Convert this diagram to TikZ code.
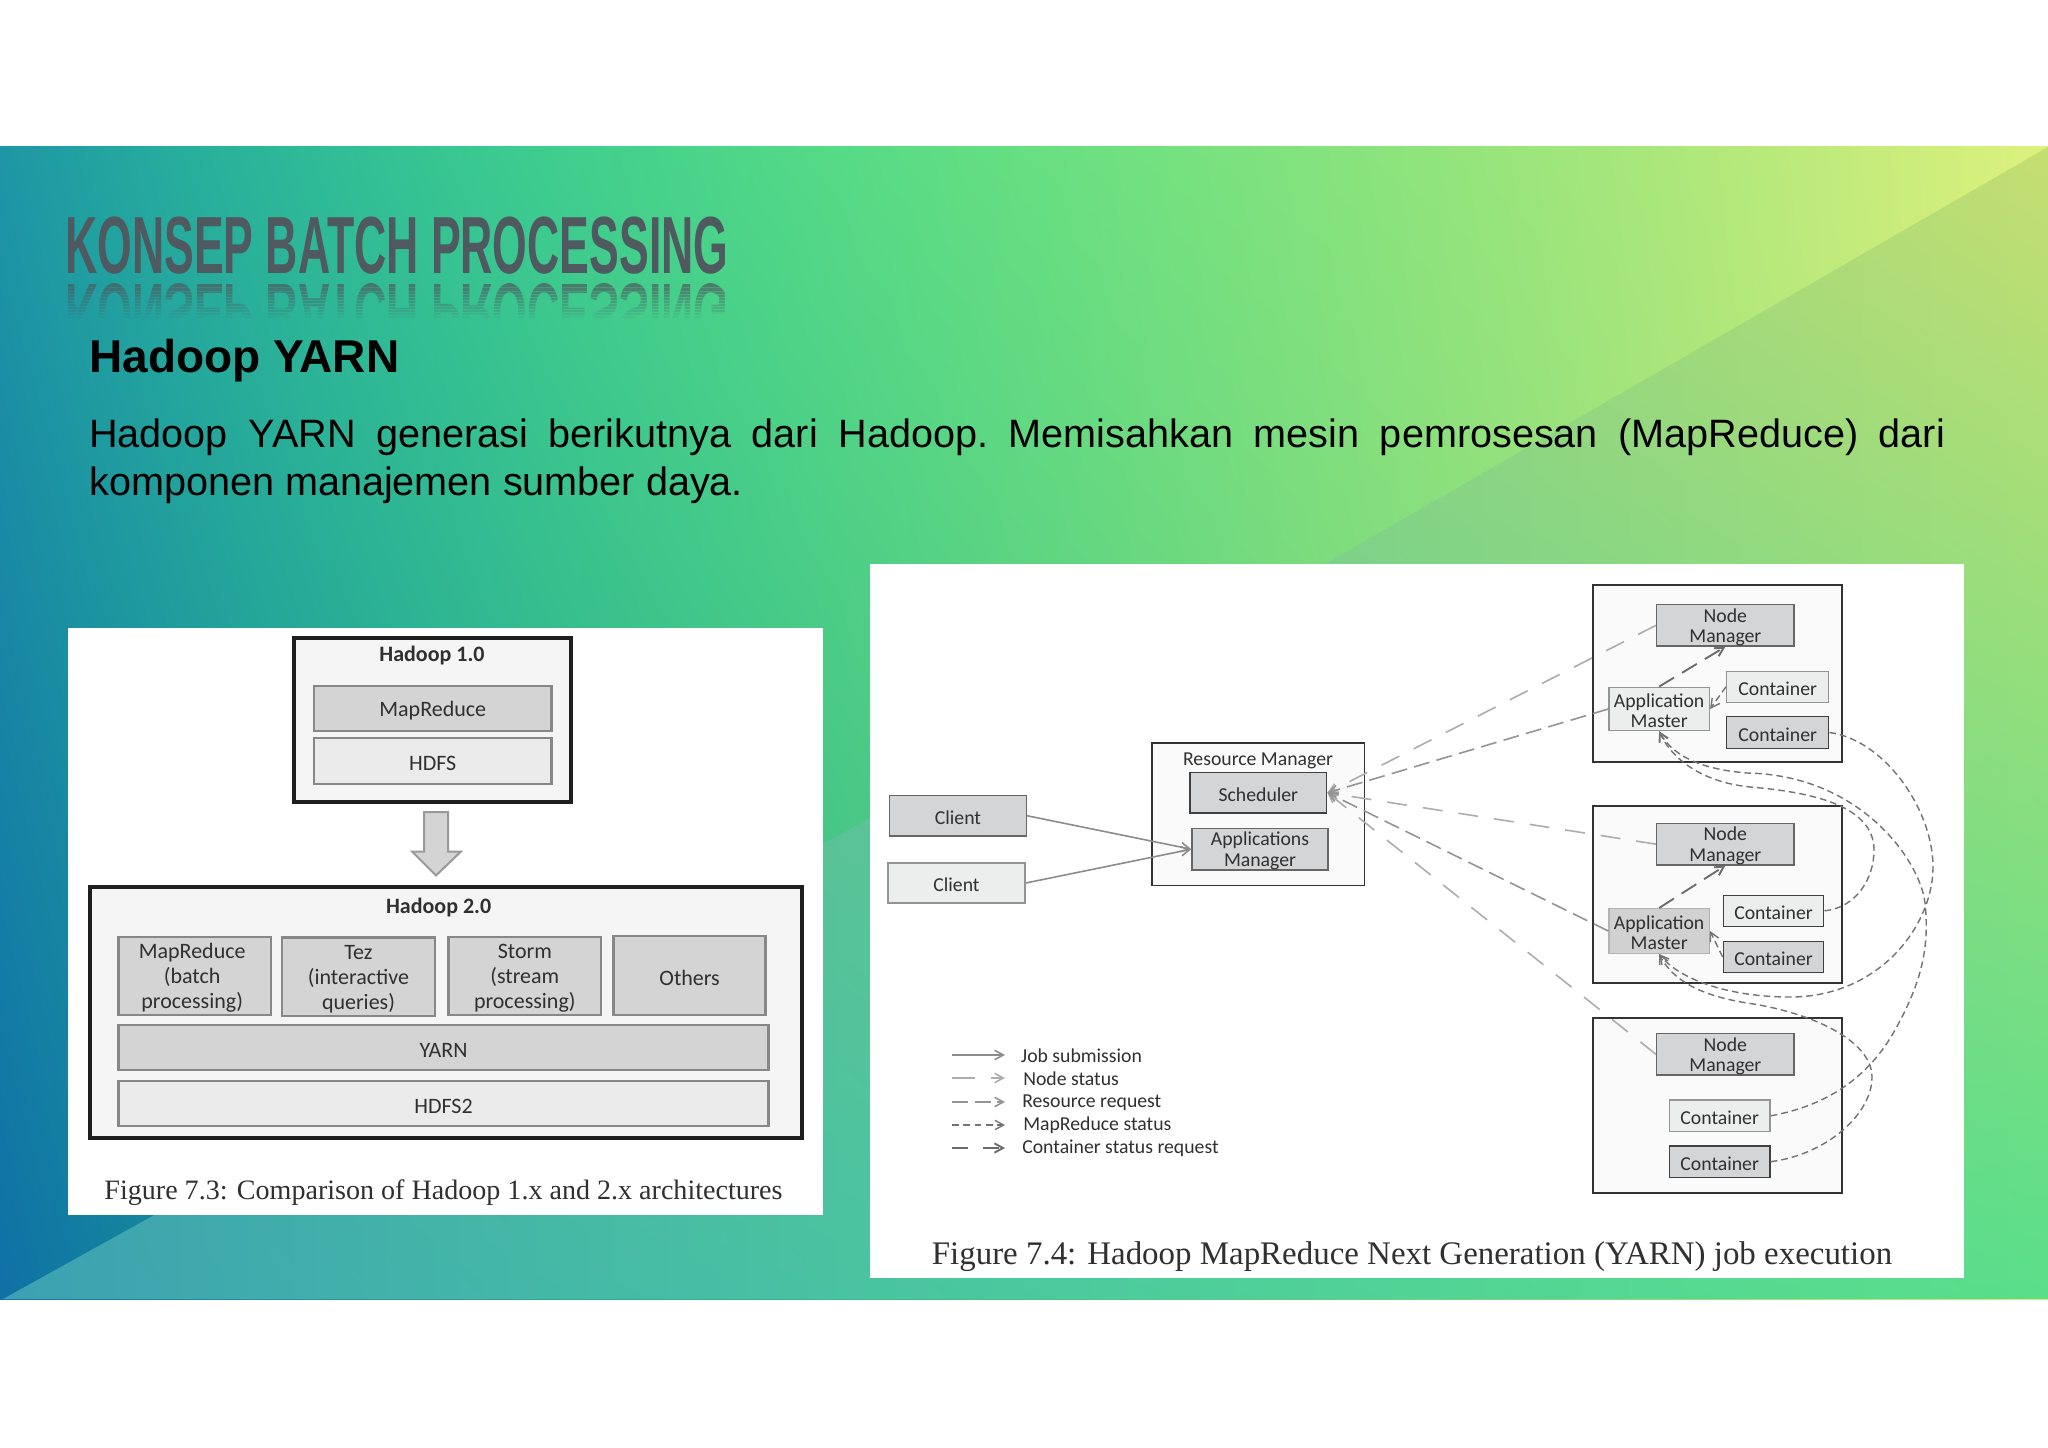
\documentclass[tikz,border=0pt]{standalone}
\usepackage{fontspec}
\usepackage{graphicx}
\setmainfont{Carlito}
\newfontfamily\arialf{Liberation Sans}
\newfontfamily\timesf{Liberation Serif}
\usetikzlibrary{arrows.meta}
\definecolor{titlegray}{RGB}{78,90,95}
\definecolor{inktext}{RGB}{48,48,48}
\definecolor{boxdark}{RGB}{211,213,214}
\definecolor{boxlight}{RGB}{236,238,238}
\pgfdeclarefunctionalshading{bgupper}{\pgfpointorigin}{\pgfpoint{100bp}{100bp}}{}{
 25 sub 50 div exch 25 sub 50 div exch
 1 exch sub 1 index 1 exch sub mul
 1 index dup dup mul 92 mul exch 100 mul add 30 add 255 div
 1 index 0.5 mul 1 exch sub mul
 2 index dup dup dup mul mul 202 mul exch dup dup mul -410 mul exch 300 mul add add 150 add 255 div
 2 index 0.25 mul 1 exch sub mul
 3 index dup dup mul 60 mul exch -100 mul add 165 add 255 div
 5 3 roll pop pop
}
\pgfdeclarefunctionalshading{bglower}{\pgfpointorigin}{\pgfpoint{100bp}{100bp}}{}{
 25 sub 50 div exch 25 sub 50 div exch
 1 index 1 index mul 108 mul 2 index 30 mul add 60 add 255 div
 2 index dup dup mul -38 mul exch 100 mul add 160 add 255 div
 2 index -25 mul 4 index -40 mul add 178 add 255 div
 5 3 roll pop pop
}
\newcommand{\mybox}[7]{%
 \pgfmathsetmacro\cx{(#3+#5)/2}\pgfmathsetmacro\cy{(#4+#6)/2}%
 \pgfmathsetmacro\bw{(#5-#3)*.75}\pgfmathsetmacro\bh{(#6-#4)*.75}%
 \node[#2,minimum width=\bw pt,minimum height=\bh pt] (#1) at (\cx,\cy) {\rule{0pt}{.88em}#7};}
\tikzset{
 x=.75pt,y=-.75pt,
 >={Straight Barb[length=6.5pt,width=7pt]},
 photo/.style={fill=white,draw=none,inner sep=0pt},
 base/.style={rectangle,inner sep=0pt,align=center,text=inktext},
 lf/.style={base,font=\fontsize{16.5}{18.75}\selectfont},
 rf/.style={base,font=\fontsize{14.8}{15.4}\selectfont},
 frameA/.style={base,draw=black!88,line width=2.6pt,fill=black!4},
 darkA/.style={lf,draw=black!47,line width=2.2pt,fill=black!17},
 lightA/.style={lf,draw=black!47,line width=2.2pt,fill=black!8},
 frameB/.style={base,draw=black!80,line width=1.3pt,fill=black!2},
 darkB/.style={rf,draw=black!60,line width=1.1pt,fill=boxdark},
 darkBb/.style={rf,draw=black!75,line width=1.15pt,fill=boxdark},
 lightB/.style={rf,draw=black!42,line width=1.1pt,fill=boxlight},
 lightBb/.style={rf,draw=black!75,line width=1.15pt,fill=boxlight},
 amdark/.style={rf,draw=black!30,line width=1.1pt,fill=black!18},
 lab/.style={rf,anchor=west},
 jobsub/.style={->,draw=black!45,line width=1.2pt},
 nodest/.style={->,draw=black!32,line width=1.2pt,dash pattern=on 15pt off 12pt},
 resreq/.style={->,draw=black!42,line width=1.2pt,dash pattern=on 12pt off 5.5pt},
 contst/.style={->,draw=black!58,line width=1.4pt,dash pattern=on 13pt off 7pt},
 mrst/.style={->,draw=black!55,line width=1.05pt,dash pattern=on 5pt off 3pt},
}
\begin{document}
\begin{tikzpicture}
\useasboundingbox (0,0) rectangle (2048,1448);
\fill[white] (0,0) rectangle (2048,1448);
% slide background
\shade[shading=bgupper,shading angle=0] (0,147) rectangle (2048,1299);
\begin{scope}
 \clip (3,1299) -- (823,844) -- (870,818) -- (1325.5,564) -- (2048,147) -- (2048,1299) -- cycle;
 \shade[shading=bglower,shading angle=0] (0,147) rectangle (2048,1299);
\end{scope}
% title with reflection
\node[anchor=base west,inner sep=0pt,text=titlegray,font=\arialf\bfseries\fontsize{60.8}{70}\selectfont] (title) at (65,273) {\scalebox{.55}[1]{KONSEP BATCH PROCESSING}};
\begin{scope}
 \clip (60,280) rectangle (740,318);
 \node[anchor=base west,inner sep=0pt,text=titlegray,font=\arialf\bfseries\fontsize{60.8}{70}\selectfont] (reflection) at (65,285) {\scalebox{.55}[-1]{KONSEP BATCH PROCESSING}};
 \foreach \i in {0,...,11}{
  \begin{scope}
   \clip (60,285+3*\i) rectangle (740,288+3*\i);
   \shade[shading=bgupper,shading angle=0,opacity=0.3+0.06*\i] (0,147) rectangle (2048,1299);
  \end{scope}
 }
\end{scope}
\node[anchor=base west,inner sep=0pt,font=\arialf\bfseries\fontsize{34.5}{40}\selectfont] (heading) at (89,372) {Hadoop YARN};
\node[anchor=north west,inner sep=0pt,text width=1044pt*4/3,align=justify,font=\arialf\fontsize{29.7}{36}\selectfont] (bodytext) at (89,419) {\frenchspacing\tolerance=9999\hbadness=10000\hyphenpenalty=10000 Hadoop YARN generasi berikutnya dari Hadoop. Memisahkan mesin pemrosesan (MapReduce) dari \mbox{komponen} manajemen sumber daya.\par};
% left figure
\mybox{figleft}{photo}{68}{628}{823}{1215}{}
\mybox{h1}{frameA}{294}{638}{571}{802}{}
\node[lf,font=\bfseries\fontsize{16.5}{18.75}\selectfont] (h1t) at (432,655.5) {Hadoop 1.0};
\mybox{h1mr}{darkA}{314}{686}{551.5}{731}{MapReduce}
\mybox{h1fs}{lightA}{314}{738}{551.5}{784}{HDFS}
\draw[draw=black!40,line width=1.5pt,fill=black!17] (424,812) -- (448,812) -- (448,851.5) -- (461,851.5) -- (436,875.5) -- (412,851.5) -- (424,851.5) -- cycle;
\mybox{h2}{frameA}{90}{887}{802}{1138}{}
\node[lf,font=\bfseries\fontsize{16.5}{18.75}\selectfont] (h2t) at (438.6,908) {Hadoop 2.0};
\mybox{a1}{darkA}{118.7}{937}{271}{1015}{\hspace*{-4pt}MapReduce\\\hspace*{-4pt}(batch\\\hspace*{-4pt}processing)}
\mybox{a2}{darkA}{282}{937.6}{435}{1016}{Tez\\(interactive\\queries)}
\mybox{a3}{darkA}{448.6}{937}{601}{1015}{Storm\\(stream\\processing)}
\mybox{a4}{darkA}{613.7}{936}{765.5}{1015}{Others}
\mybox{a5}{darkA}{118.7}{1025}{768.5}{1070}{YARN}
\mybox{a6}{lightA}{118.7}{1081}{768.5}{1126}{HDFS2}
\node[anchor=base,inner sep=0pt,text=inktext,font=\timesf\fontsize{21.05}{24}\selectfont] (cap3) at (443.5,1199) {Figure 7.3: Comparison of Hadoop 1.x and 2.x architectures};
% right figure
\mybox{figright}{photo}{870}{564}{1964}{1278}{}
\mybox{c1}{darkB}{889.6}{795.5}{1026.4}{836}{Client}
\mybox{c2}{lightB}{888}{863}{1025}{903}{Client}
\mybox{rm}{frameB}{1152}{742.7}{1364.6}{885.5}{}
\node[rf] (rmt) at (1258,760.5) {Resource Manager};
\mybox{sched}{darkBb}{1190}{772.5}{1326.7}{813}{Scheduler}
\mybox{apm}{darkB}{1192}{829}{1328}{869.4}{Applications\\Manager}
\mybox{n1}{frameB}{1593.3}{584.7}{1841.7}{761.7}{}
\mybox{n2}{frameB}{1593.3}{806}{1841.7}{982.7}{}
\mybox{n3}{frameB}{1593.3}{1018}{1841.7}{1193.3}{}
\mybox{nm1}{darkB}{1656.7}{605}{1794}{645.7}{Node\\Manager}
\mybox{am1}{lightB}{1609}{687.3}{1709.3}{730.7}{Application\\Master}
\mybox{k1a}{lightB}{1726.7}{671.3}{1828.7}{702.3}{Container}
\mybox{k1b}{darkBb}{1726.7}{716.7}{1828.7}{748.3}{Container}
\mybox{nm2}{darkB}{1656.7}{824}{1794}{864.3}{Node\\Manager}
\mybox{am2}{amdark}{1609}{908.7}{1709.3}{953.3}{Application\\Master}
\mybox{k2a}{lightBb}{1723.3}{895.3}{1823.7}{926.3}{Container}
\mybox{k2b}{darkBb}{1723.3}{941.3}{1823.7}{972.3}{Container}
\mybox{nm3}{darkB}{1656.7}{1034}{1794}{1074.7}{Node\\Manager}
\mybox{k3a}{lightB}{1669.3}{1100}{1770}{1131.7}{Container}
\mybox{k3b}{darkBb}{1669.3}{1146}{1770}{1177.3}{Container}
% job submission
\draw[jobsub] (c1.east) -- (apm.west);
\draw[jobsub] (c2.east) -- (apm.west);
% node status and resource requests
\draw[nodest] (nm1.west) -- (sched.east);
\draw[nodest] (nm2.west) -- (sched.east);
\draw[nodest] (nm3.west) -- (sched.east);
\draw[resreq] (am1.west) -- (sched.east);
\draw[resreq] (am2.west) -- (sched.east);
% container status requests
\draw[contst] (am1.north) -- (nm1.south);
\draw[contst] (am2.north) -- (nm2.south);
% mapreduce status
\draw[mrst] (k1a.west) -- (am1.east);
\draw[mrst] (k2b.west) -- (am2.east);
\draw[mrst] (k2a.east) .. controls (1855,908) and (1874,880) .. (1874,850) .. controls (1874,805) and (1810,792) .. (1750,787) .. controls (1710,783) and (1675,765) .. (am1.south);
\draw[mrst] (k1b.east) .. controls (1885,740) and (1933,810) .. (1933,867) .. controls (1933,925) and (1880,997) .. (1790,997) .. controls (1730,997) and (1680,980) .. (am2.south);
\draw[mrst] (k3a.east) .. controls (1830,1105) and (1870,1075) .. (1895,1030) .. controls (1920,985) and (1930,950) .. (1925,903) .. controls (1920,860) and (1860,775) .. (1747,773) .. controls (1710,770) and (1675,760) .. (am1.south);
\draw[mrst] (k3b.east) .. controls (1825,1155) and (1872,1115) .. (1872,1077) .. controls (1872,1040) and (1810,1012) .. (1747,1003) .. controls (1710,997) and (1675,985) .. (am2.south);
% legend
\coordinate (l1a) at (952,1055); \coordinate (l1b) at (1005,1055);
\coordinate (l2a) at (952,1078); \coordinate (l2b) at (1005,1078);
\coordinate (l3a) at (952,1102); \coordinate (l3b) at (1005,1102);
\coordinate (l4a) at (952,1125); \coordinate (l4b) at (1005,1125);
\coordinate (l5a) at (952,1148); \coordinate (l5b) at (1005,1148);
\draw[jobsub] (l1a) -- (l1b);
\draw[nodest,dash pattern=on 17pt off 12pt] (l2a) -- (l2b);
\draw[resreq,dash pattern=on 12pt off 5pt] (l3a) -- (l3b);
\draw[mrst,dash pattern=on 5pt off 3.5pt] (l4a) -- (l4b);
\draw[contst,dash pattern=on 12pt off 11pt] (l5a) -- (l5b);
\node[lab] (t1) at (1020.7,1055.5) {Job submission};
\node[lab] (t2) at (1023,1078.5) {Node status};
\node[lab] (t3) at (1022,1102.5) {Resource request};
\node[lab] (t4) at (1023,1125.5) {MapReduce status};
\node[lab] (t5) at (1022,1148.5) {Container status request};
\node[anchor=base,inner sep=0pt,text=inktext,font=\timesf\fontsize{24.7}{30}\selectfont] (cap4) at (1412,1264.5) {Figure 7.4: Hadoop MapReduce Next Generation (YARN) job execution};
\end{tikzpicture}
\end{document}
